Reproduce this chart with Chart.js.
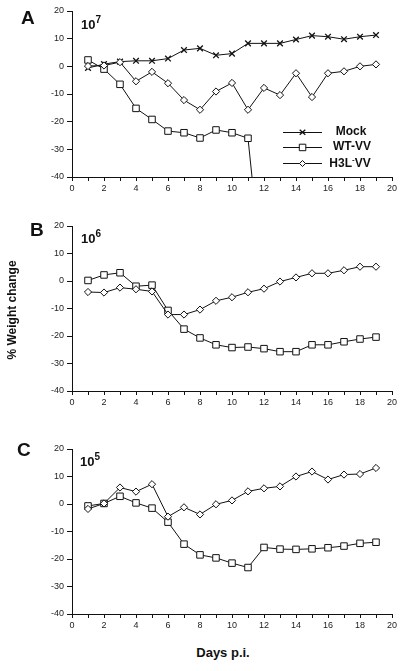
<!DOCTYPE html>
<html>
<head>
<meta charset="utf-8">
<script src="https://cdn.jsdelivr.net/npm/chart.js@4/dist/chart.umd.min.js"></script>
<style>
  body { margin: 0; background: #fff; width: 408px; height: 671px; position: relative; overflow: hidden;
         font-family: "Liberation Sans", Arial, sans-serif; color: #111; }
  .panel { position: absolute; left: 0; width: 408px; height: 200px; }
  .txt { position: absolute; font-weight: bold; white-space: nowrap; }
  .letter { font-size: 19px; }
  .dose { font-size: 13px; }
  .dose sup { font-size: 10px; position: relative; top: -1px; }
  .leg { font-size: 12px; transform: translateX(-50%); }
  .leg sup { font-size: 8px; }
</style>
</head>
<body>
<div class="panel" style="top:0"><canvas id="chartA"></canvas></div>
<div class="panel" style="top:215px"><canvas id="chartB"></canvas></div>
<div class="panel" style="top:438px"><canvas id="chartC"></canvas></div>

<div class="txt letter" style="left:21px;top:7px">A</div>
<div class="txt letter" style="left:30px;top:219px">B</div>
<div class="txt letter" style="left:17px;top:439px">C</div>

<div class="txt dose" style="left:81px;top:15px">10<sup>7</sup></div>
<div class="txt dose" style="left:81px;top:229px">10<sup>6</sup></div>
<div class="txt dose" style="left:80px;top:452px">10<sup>5</sup></div>

<div class="txt leg" style="left:351px;top:124px">Mock</div>
<div class="txt leg" style="left:352px;top:139px">WT-VV</div>
<div class="txt leg" style="left:350px;top:155px">H3L<sup>-</sup>VV</div>

<div class="txt" style="font-size:12px;left:12px;top:310px;transform:translate(-50%,-50%) rotate(-90deg)">% Weight change</div>
<div class="txt" style="font-size:13px;left:223px;top:652px;transform:translate(-50%,-50%)">Days p.i.</div>

<script>
// days post infection
const days = [1, 2, 3, 4, 5, 6, 7, 8, 9, 10, 11, 12, 13, 14, 15, 16, 17, 18, 19];

// Panel A (10^7)
const mockA = [-0.6, 0.8, 1.7, 2.0, 2.0, 2.8, 5.9, 6.5, 4.0, 4.6, 8.3, 8.3, 8.3, 9.7, 11.1, 10.7, 9.8, 10.7, 11.3];
const wtADays = [1, 2, 3, 4, 5, 6, 7, 8, 9, 10, 11, 11.25];
const wtA = [2.3, -1.0, -6.5, -15.2, -19.2, -23.4, -24.0, -25.9, -23.0, -24.0, -26.0, -40];
const h3lA = [0.1, 0.3, 1.5, -5.4, -2.0, -6.1, -12.2, -15.7, -9.1, -6.0, -15.7, -7.8, -10.4, -2.5, -11.1, -2.5, -1.8, 0.0, 0.7];

// Panel B (10^6)
const wtB = [0.2, 2.2, 3.0, -1.9, -1.5, -10.7, -17.5, -20.7, -23.2, -24.2, -24.0, -24.6, -25.7, -25.7, -23.2, -23.2, -22.1, -21.1, -20.4];
const h3lB = [-4.0, -4.2, -2.4, -3.0, -3.8, -12.2, -12.2, -10.4, -7.2, -5.9, -4.1, -2.8, -0.2, 1.3, 2.8, 2.8, 3.9, 5.2, 5.2];

// Panel C (10^5)
const wtC = [-0.7, 0.2, 2.8, 0.4, -1.5, -6.6, -14.6, -18.5, -19.6, -21.5, -23.1, -15.8, -16.4, -16.5, -16.3, -15.9, -15.3, -14.3, -13.9];
const h3lC = [-1.8, 0.2, 6.0, 4.5, 7.2, -4.6, -1.2, -3.8, -0.1, 1.3, 4.6, 5.7, 6.4, 10.0, 11.8, 8.9, 10.7, 10.9, 13.1];

// axes
const yMin = -40, yMax = 20, yStep = 10;
const xMin = 0, xMax = 20;

const tickFont = { family: "Liberation Sans, Arial, sans-serif", size: 9 };

function pts(xs, ys) {
  return ys.map((y, i) => ({ x: xs[i], y: y }));
}

const styles = {
  mock: { pointStyle: 'crossRot', pointRadius: 4, pointBorderWidth: 1.3 },
  wt:   { pointStyle: 'rect', pointRadius: 4.6, pointBorderWidth: 1 },
  h3l:  { pointStyle: 'rectRot', pointRadius: 3.6, pointBorderWidth: 1 }
};

function ds(label, data, kind, radii) {
  return Object.assign({
    label: label,
    data: data,
    borderColor: '#111',
    borderWidth: 1,
    backgroundColor: '#fff',
    pointBackgroundColor: '#fff',
    pointBorderColor: '#111',
    tension: 0,
    fill: false
  }, styles[kind], radii ? { pointRadius: radii } : {});
}

// legend symbols inside panel A
const legendSymbols = {
  id: 'legendSymbols',
  afterDraw(chart) {
    const ctx = chart.ctx;
    const rows = [['mock', 132], ['wt', 147], ['h3l', 163]];
    ctx.save();
    ctx.strokeStyle = '#111';
    ctx.lineWidth = 1;
    rows.forEach(([kind, y]) => {
      ctx.beginPath();
      ctx.moveTo(283, y + 0.5);
      ctx.lineTo(322, y + 0.5);
      ctx.stroke();
      const cx = 302.5;
      ctx.fillStyle = '#fff';
      ctx.beginPath();
      if (kind === 'mock') {
        ctx.lineWidth = 1.3;
        ctx.moveTo(cx - 2.8, y - 2.3); ctx.lineTo(cx + 2.8, y + 2.8);
        ctx.moveTo(cx + 2.8, y - 2.3); ctx.lineTo(cx - 2.8, y + 2.8);
        ctx.stroke();
        ctx.lineWidth = 1;
      } else if (kind === 'wt') {
        ctx.rect(cx - 3.2, y - 2.8, 6.5, 6.5);
        ctx.fill(); ctx.stroke();
      } else {
        ctx.moveTo(cx, y - 2.5); ctx.lineTo(cx + 3, y + 0.5);
        ctx.lineTo(cx, y + 3.5); ctx.lineTo(cx - 3, y + 0.5); ctx.closePath();
        ctx.fill(); ctx.stroke();
      }
    });
    ctx.restore();
  }
};

function makeChart(id, datasets, xHeight, plugins) {
  return new Chart(document.getElementById(id), {
    type: 'line',
    data: { datasets: datasets },
    options: {
      responsive: true,
      maintainAspectRatio: false,
      animation: false,
      layout: { padding: { left: 0, right: 16, top: 11, bottom: 0 } },
      plugins: { legend: { display: false }, tooltip: { enabled: false } },
      scales: {
        x: {
          type: 'linear',
          min: xMin, max: xMax,
          afterFit: s => { s.height = xHeight; },
          border: { display: true, color: '#111', width: 1 },
          grid: { display: true, drawOnChartArea: false, drawTicks: true, tickLength: 4, color: '#111' },
          ticks: {
            stepSize: 1, autoSkip: false, maxRotation: 0, padding: 2,
            color: '#222', font: tickFont,
            callback: v => (v % 2 === 0 ? String(v) : '')
          }
        },
        y: {
          min: yMin, max: yMax,
          afterFit: s => { s.width = 72; },
          border: { display: true, color: '#111', width: 1 },
          grid: { display: true, drawOnChartArea: false, drawTicks: true, tickLength: 5, color: '#111' },
          ticks: { stepSize: yStep, padding: 3, color: '#222', font: tickFont }
        }
      }
    },
    plugins: plugins || []
  });
}

makeChart('chartA', [
  ds('H3L-VV', pts(days, h3lA), 'h3l'),
  ds('WT-VV', pts(wtADays, wtA), 'wt', wtADays.map((d, i) => (i === wtADays.length - 1 ? 0 : 4.6))),
  ds('Mock', pts(days, mockA), 'mock')
], 23, [legendSymbols]);

makeChart('chartB', [
  ds('H3L-VV', pts(days, h3lB), 'h3l'),
  ds('WT-VV', pts(days, wtB), 'wt')
], 24);

makeChart('chartC', [
  ds('H3L-VV', pts(days, h3lC), 'h3l'),
  ds('WT-VV', pts(days, wtC), 'wt')
], 24);
</script>
</body>
</html>
